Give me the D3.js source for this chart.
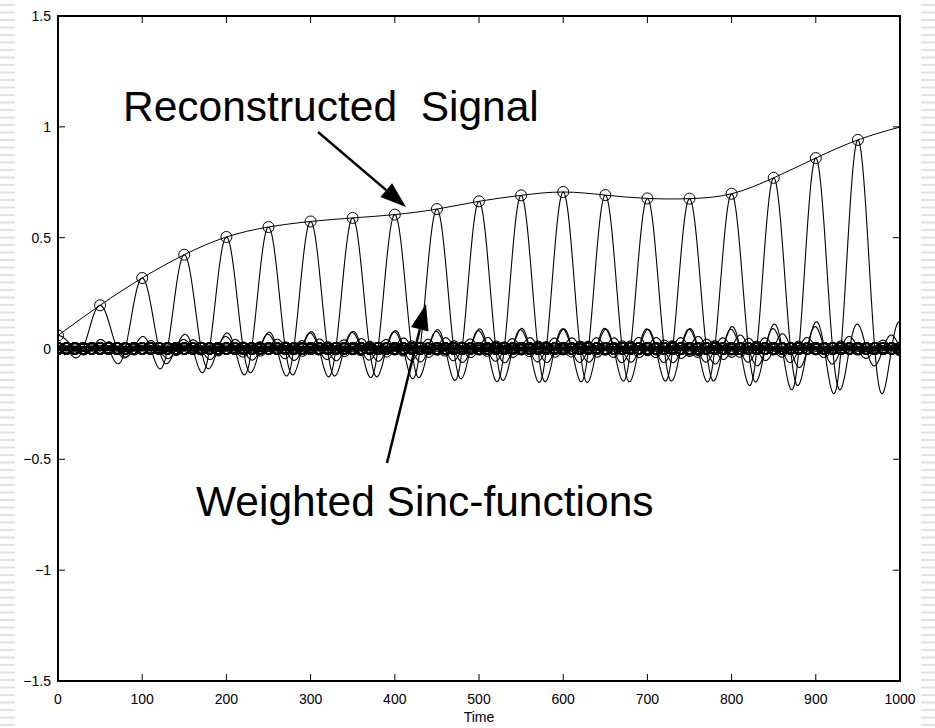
<!DOCTYPE html>
<html><head><meta charset="utf-8">
<script src="https://cdn.jsdelivr.net/npm/d3@7"></script>
<style>
html,body{margin:0;padding:0;background:#fff;}
svg{display:block;font-family:"Liberation Sans",Arial,Helvetica,sans-serif;}
</style></head>
<body><svg id="c" width="935" height="728"></svg>
<script>
// ---- data ----
const sampleTimes = [0,50,100,150,200,250,300,350,400,450,500,550,600,650,700,750,800,850,900,950];
const sampleValues = [0.059,0.195,0.318,0.423,0.503,0.548,0.573,0.589,0.604,0.629,0.664,0.691,0.706,0.692,0.677,0.676,0.698,0.770,0.859,0.941];
const signalTimes = [0,50,100,150,200,250,300,350,400,450,500,550,600,650,700,750,800,850,900,950,1000];
const signalValues = [0.059,0.195,0.318,0.423,0.503,0.548,0.573,0.589,0.604,0.629,0.664,0.691,0.706,0.692,0.677,0.676,0.698,0.770,0.859,0.941,0.999];
const sincWidth = 20;  // zero spacing of each sinc (time units)
const xTicks = [0,100,200,300,400,500,600,700,800,900,1000];
const yTicks = [-1.5,-1,-0.5,0,0.5,1,1.5];

const svg = d3.select("#c");
const L=58, R=900, T=16, B=681;
const x = d3.scaleLinear().domain([0,1000]).range([L,R]);
const y = d3.scaleLinear().domain([-1.5,1.5]).range([B,T]);

// decorative side stripes
const stripes = d3.range(4, 728, 7.5);
svg.append("g").selectAll("rect.l").data(stripes).join("rect")
  .attr("x",0).attr("y",d=>d).attr("width",15).attr("height",2).attr("fill","#e2e2e2");
svg.append("g").selectAll("rect.r").data(stripes).join("rect")
  .attr("x",921).attr("y",d=>d).attr("width",14).attr("height",2).attr("fill","#e2e2e2");

const sinc = u => u===0 ? 1 : Math.sin(Math.PI*u)/(Math.PI*u);
const grid = d3.range(0, 1000.001, 1);

const plot = svg.append("g");
plot.append("clipPath").attr("id","clip").append("rect")
  .attr("x",L).attr("y",T).attr("width",R-L).attr("height",B-T);
const g = plot.append("g").attr("clip-path","url(#clip)");

const line = d3.line().x(d=>x(d[0])).y(d=>y(d[1]));
sampleTimes.forEach((tk,k)=>{
  const w = sampleValues[k];
  const pts = grid.map(t=>[t, w*sinc((t-tk)/sincWidth)]);
  g.append("path").attr("d", line(pts)).attr("fill","none")
    .attr("stroke","#000").attr("stroke-width",1.1);
  // markers at the sinc's own sampling instants (tk + n*sincWidth)
  const marks = d3.range(tk - Math.floor(tk/sincWidth)*sincWidth, 1000.001, sincWidth);
  g.selectAll(null).data(marks).join("circle")
    .attr("cx",t=>x(t)).attr("cy",t=>y(Math.abs(t-tk)<1e-9 ? w : 0))
    .attr("r",5.5).attr("fill","none").attr("stroke","#000")
    .attr("stroke-width",t=>Math.abs(t-tk)<1e-9 ? 1 : 1.5);
});

// reconstructed signal
const sig = signalTimes.map((t,i)=>[t,signalValues[i]]);
g.append("path").attr("d", d3.line().x(d=>x(d[0])).y(d=>y(d[1])).curve(d3.curveNatural)(sig))
  .attr("fill","none").attr("stroke","#000").attr("stroke-width",1);

// axes (box with inward ticks)
const tickLen = 7;
const ax = svg.append("g").attr("stroke","#000");
xTicks.forEach(t=>{
  ax.append("line").attr("x1",x(t)).attr("x2",x(t)).attr("y1",B).attr("y2",B-tickLen);
  ax.append("line").attr("x1",x(t)).attr("x2",x(t)).attr("y1",T).attr("y2",T+tickLen);
});
yTicks.forEach(v=>{
  ax.append("line").attr("x1",L).attr("x2",L+tickLen).attr("y1",y(v)).attr("y2",y(v));
  ax.append("line").attr("x1",R).attr("x2",R-tickLen).attr("y1",y(v)).attr("y2",y(v));
});
svg.append("rect").attr("x",L).attr("y",T).attr("width",R-L).attr("height",B-T)
  .attr("fill","none").attr("stroke","#000").attr("stroke-width",2);

const fmt = v => (v<0?"\u2212":"") + Math.abs(v);
svg.append("g").selectAll("text").data(xTicks).join("text")
  .attr("x",d=>x(d)).attr("y",B+23).attr("text-anchor","middle")
  .attr("font-size",14).text(d=>fmt(d));
svg.append("g").selectAll("text").data(yTicks).join("text")
  .attr("x",L-7).attr("y",d=>y(d)+5).attr("text-anchor","end")
  .attr("font-size",14).text(d=>fmt(d));
svg.append("text").attr("x",(L+R)/2).attr("y",722).attr("text-anchor","middle")
  .attr("font-size",14).text("Time");

// annotations
svg.append("text").attr("x",123).attr("y",121).attr("font-size",42.5)
  .style("white-space","pre").text("Reconstructed  Signal");
svg.append("text").attr("x",196).attr("y",516).attr("font-size",42.5).text("Weighted Sinc-functions");

function arrow(x1,y1,x2,y2){
  const ang = Math.atan2(y2-y1,x2-x1), len=26, hw=9;
  const bx = x2 - len*Math.cos(ang), by = y2 - len*Math.sin(ang);
  svg.append("line").attr("x1",x1).attr("y1",y1).attr("x2",bx).attr("y2",by)
    .attr("stroke","#000").attr("stroke-width",2.5);
  const px = -Math.sin(ang)*hw, py = Math.cos(ang)*hw;
  svg.append("path").attr("d",`M${x2},${y2}L${bx+px},${by+py}L${bx-px},${by-py}Z`).attr("fill","#000");
}
arrow(318,132,406,207);
arrow(387,463,426,304);
</script></body></html>
